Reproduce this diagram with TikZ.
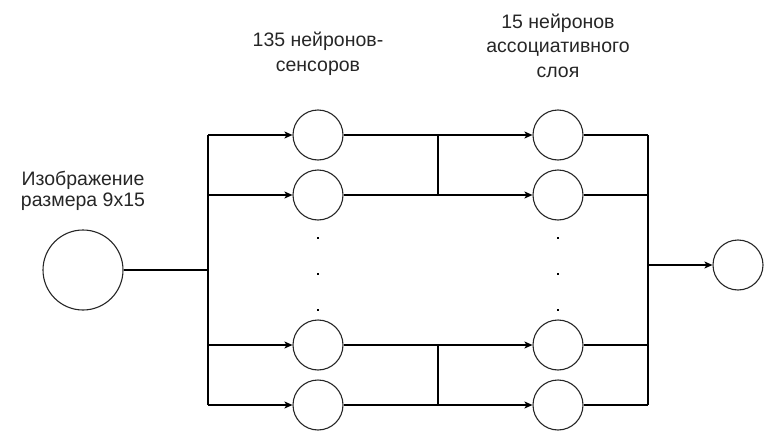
\documentclass[tikz,border=0pt]{standalone}
\usepackage{fontspec}
\setmainfont{Liberation Sans}
\usetikzlibrary{arrows.meta}
\begin{document}
\begin{tikzpicture}[x=1pt,y=-1pt,
  neuron/.style={circle,draw=black!85,line width=1.1pt,minimum size=50pt,inner sep=0pt},
  bigneuron/.style={circle,draw=black!85,line width=1.1pt,minimum size=80pt,inner sep=0pt},
  wire/.style={draw=black,line width=1.1pt},
  arr/.style={wire,-{Stealth[length=8pt,width=7pt,inset=2pt]}},
  dotmark/.style={fill=black,inner sep=0pt,minimum size=2.6pt,rectangle},
  lbl/.style={font=\fontsize{19.5}{24.5}\selectfont,align=center,inner sep=0pt,anchor=north,text=black!85}]
\useasboundingbox (0,0) rectangle (764,431);
% nodes
\node[bigneuron] (in) at (83,270) {};
\node[neuron] (s1) at (318,135) {};
\node[neuron] (s2) at (318,195) {};
\node[neuron] (s3) at (318,345) {};
\node[neuron] (s4) at (318,405) {};
\node[neuron] (a1) at (558,135) {};
\node[neuron] (a2) at (558,195) {};
\node[neuron] (a3) at (558,345) {};
\node[neuron] (a4) at (558,405) {};
\node[neuron] (out) at (738,265) {};
% dots
\node[dotmark] (ds1) at (318,238) {};
\node[dotmark] (ds2) at (318,274) {};
\node[dotmark] (ds3) at (318,310) {};
\node[dotmark] (da1) at (558,238) {};
\node[dotmark] (da2) at (558,274) {};
\node[dotmark] (da3) at (558,310) {};
% labels
\node[lbl,font=\fontsize{19.5}{21}\selectfont] (limg) at (83,170.5) {Изображение\\размера 9x15};
\node[lbl] (lsens) at (318,32) {135 нейронов-\\сенсоров};
\node[lbl] (lassoc) at (558,13.5) {15 нейронов\\ассоциативного\\слоя};
% branch coordinates
\coordinate (bm) at (208,270);
\coordinate (b1) at (208,135);
\coordinate (b2) at (208,195);
\coordinate (b3) at (208,345);
\coordinate (b4) at (208,405);
\coordinate (m1) at (438,135);
\coordinate (m2) at (438,195);
\coordinate (m3) at (438,345);
\coordinate (m4) at (438,405);
\coordinate (r1) at (648,135);
\coordinate (r2) at (648,195);
\coordinate (r3) at (648,345);
\coordinate (r4) at (648,405);
\coordinate (rm) at (648,265);
% connectors
\draw[wire] (in) -- (bm);
\draw[wire] (b1) -- (b4);
\draw[arr] (b1) -- (s1);
\draw[arr] (b2) -- (s2);
\draw[arr] (b3) -- (s3);
\draw[arr] (b4) -- (s4);
\draw[arr] (s1) -- (a1);
\draw[arr] (s2) -- (a2);
\draw[arr] (s3) -- (a3);
\draw[arr] (s4) -- (a4);
\draw[wire] (m1) -- (m2);
\draw[wire] (m3) -- (m4);
\draw[wire] (a1) -- (r1);
\draw[wire] (a2) -- (r2);
\draw[wire] (a3) -- (r3);
\draw[wire] (a4) -- (r4);
\draw[wire] (r1) -- (r4);
\draw[arr] (rm) -- (out);
\end{tikzpicture}
\end{document}
